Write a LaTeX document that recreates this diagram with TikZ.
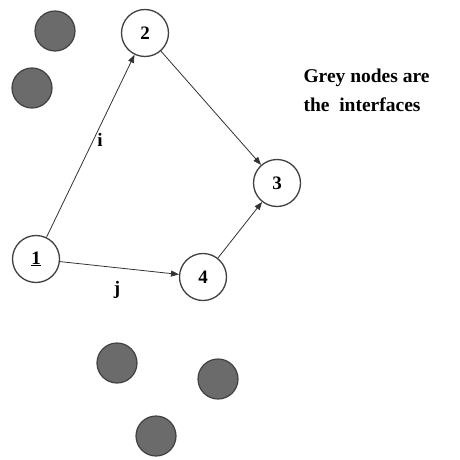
\documentclass[tikz,border=0pt]{standalone}
\usepackage{fontspec}
\setmainfont{Liberation Serif}
\usetikzlibrary{arrows.meta}
\begin{document}
\begin{tikzpicture}[x=1pt,y=-1pt,
  wnode/.style={circle,draw=black!75,line width=1.3pt,fill=white,minimum size=47pt,inner sep=0pt,font=\bfseries\fontsize{19}{19}\selectfont},
  gnode/.style={circle,draw=black!75,line width=1.2pt,fill=black!58,minimum size=40pt,inner sep=0pt},
  edge/.style={draw=black!80,line width=0.8pt,-{Triangle[length=8pt,width=6pt]}},
  lbl/.style={font=\bfseries\fontsize{19}{19}\selectfont}]
\useasboundingbox (0,0) rectangle (460,460);
\node[gnode] (g1) at (55,31) {};
\node[gnode] (g2) at (32,88) {};
\node[gnode] (g3) at (117,363) {};
\node[gnode] (g4) at (218,379) {};
\node[gnode] (g5) at (156,436) {};
\node[wnode] (n2) at (145,33) {2};
\node[wnode] (n3) at (277,183) {3};
\node[wnode] (n1) at (36,259) {\underline{1}};
\node[wnode] (n4) at (203,277) {4};
\draw[edge] (n1) -- (n2);
\draw[edge] (n2) -- (n3);
\draw[edge] (n4) -- (n3);
\draw[edge] (n1) -- (n4);
\node[lbl] (li) at (100,140) {i};
\node[lbl] (lj) at (117,290) {j};
\node[lbl,anchor=west,align=left,font=\bfseries\fontsize{19.5}{29}\selectfont] (txt) at (300,90) {Grey nodes are\\the\ \ interfaces};
\end{tikzpicture}
\end{document}
